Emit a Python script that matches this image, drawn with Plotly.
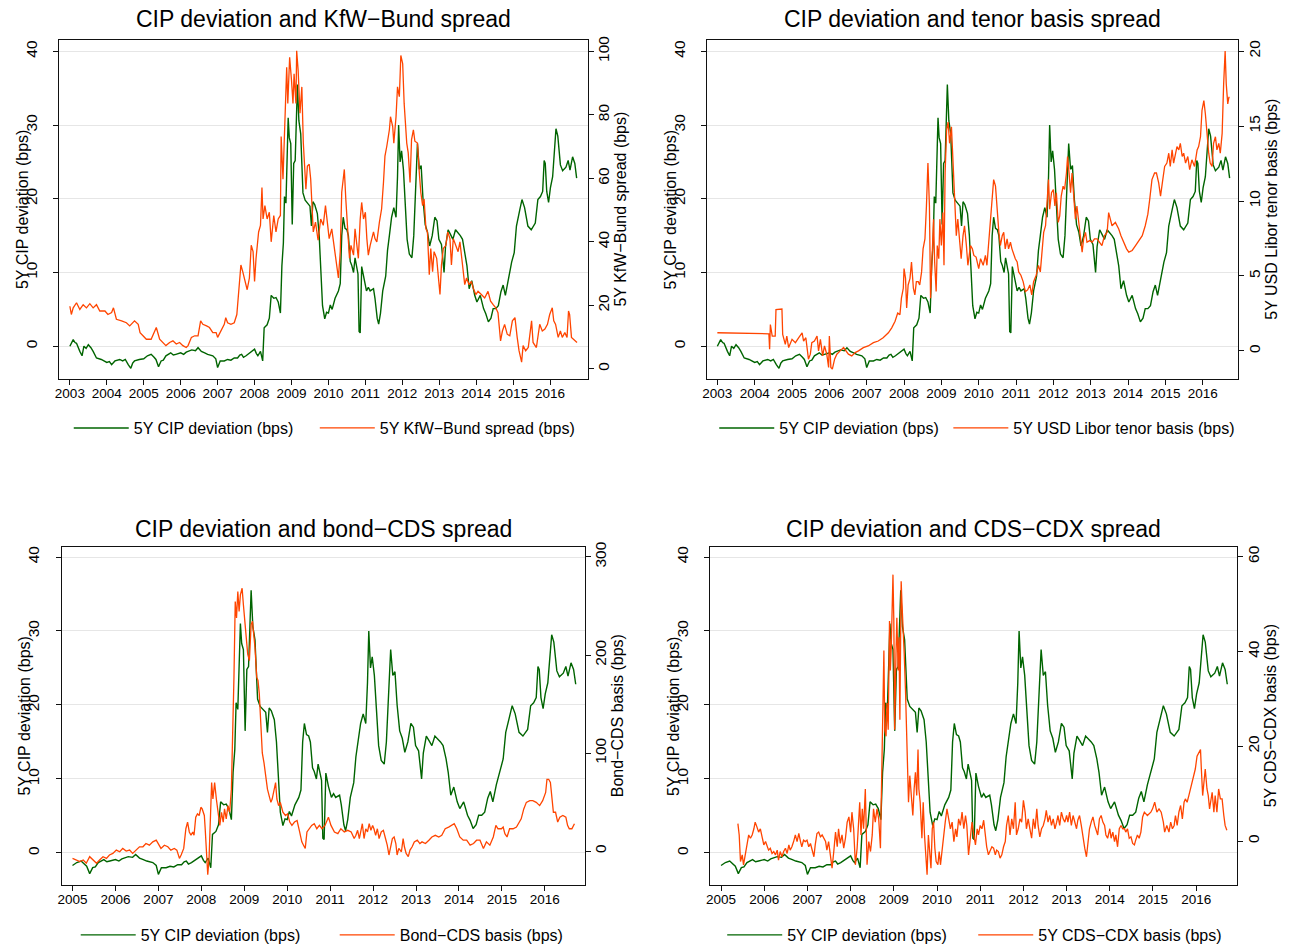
import plotly.graph_objects as go

# ---------------- data (decimal year, value) ----------------
CIP = [
(2003.00,0.0),(2003.05,0.6),(2003.09,0.9),(2003.14,0.5),(2003.18,0.4),(2003.27,-0.7),(2003.33,-1.3),(2003.38,0.0),
(2003.44,-0.3),(2003.50,0.2),(2003.57,-0.2),(2003.63,-0.7),(2003.72,-1.6),(2003.85,-1.8),(2003.93,-2.0),(2004.00,-2.2),
(2004.07,-2.1),(2004.13,-2.5),(2004.22,-2.0),(2004.35,-1.8),(2004.43,-2.0),(2004.50,-1.8),(2004.58,-2.5),(2004.65,-3.0),
(2004.70,-2.3),(2004.75,-2.0),(2004.88,-1.8),(2005.00,-1.7),(2005.10,-1.3),(2005.20,-1.1),(2005.28,-1.5),(2005.33,-1.8),
(2005.40,-2.8),(2005.47,-2.0),(2005.53,-1.9),(2005.60,-1.3),(2005.73,-0.9),(2005.80,-1.2),(2005.87,-1.1),(2006.00,-0.9),
(2006.08,-1.1),(2006.15,-0.8),(2006.30,-0.5),(2006.40,-0.6),(2006.47,-0.2),(2006.56,-0.7),(2006.65,-0.9),(2006.73,-1.1),
(2006.87,-1.3),(2006.95,-1.7),(2007.00,-2.9),(2007.07,-2.0),(2007.18,-2.0),(2007.27,-1.8),(2007.36,-1.9),(2007.45,-1.6),
(2007.54,-1.6),(2007.60,-1.2),(2007.65,-1.1),(2007.70,-1.5),(2007.77,-1.3),(2007.84,-1.0),(2007.89,-0.9),(2008.00,-0.4),
(2008.05,-1.0),(2008.09,-1.3),(2008.16,-0.7),(2008.22,-2.0),(2008.26,2.5),(2008.34,2.9),(2008.40,3.8),(2008.45,6.9),
(2008.52,6.5),(2008.58,6.6),(2008.64,6.0),(2008.70,4.5),(2008.74,10.9),(2008.78,14.0),(2008.81,20.3),(2008.85,19.4),
(2008.91,31.0),(2008.94,28.3),(2008.98,27.5),(2009.02,16.5),(2009.06,24.8),(2009.10,25.2),(2009.16,35.5),(2009.20,30.6),
(2009.25,28.8),(2009.31,20.8),(2009.37,19.8),(2009.43,19.4),(2009.50,19.0),(2009.54,16.3),(2009.58,19.6),(2009.63,19.2),
(2009.70,18.0),(2009.75,15.0),(2009.79,10.0),(2009.84,5.5),(2009.90,3.7),(2009.95,4.6),(2010.00,4.5),(2010.05,5.6),
(2010.10,5.0),(2010.18,6.5),(2010.27,7.5),(2010.32,8.5),(2010.36,15.0),(2010.40,17.5),(2010.45,16.0),(2010.50,15.8),
(2010.54,15.0),(2010.59,11.5),(2010.63,11.0),(2010.68,10.0),(2010.72,12.0),(2010.77,10.5),(2010.80,9.8),(2010.83,2.0),
(2010.86,1.8),(2010.90,10.8),(2010.96,9.0),(2011.03,7.5),(2011.08,8.0),(2011.13,7.5),(2011.22,7.8),(2011.26,6.5),
(2011.32,3.8),(2011.36,3.0),(2011.41,4.5),(2011.47,7.5),(2011.55,9.5),(2011.60,13.0),(2011.65,15.0),(2011.71,17.5),
(2011.77,18.8),(2011.83,17.5),(2011.87,23.0),(2011.90,30.0),(2011.94,25.0),(2011.98,26.5),(2012.03,24.0),(2012.08,18.5),
(2012.13,14.5),(2012.19,12.5),(2012.26,12.0),(2012.31,15.0),(2012.37,22.5),(2012.41,27.5),(2012.46,24.0),(2012.51,24.5),
(2012.56,20.0),(2012.62,16.5),(2012.68,15.5),(2012.74,13.6),(2012.81,15.0),(2012.88,17.5),(2012.94,17.0),(2012.99,14.5),
(2013.06,13.8),(2013.13,10.0),(2013.17,13.5),(2013.24,15.8),(2013.30,15.2),(2013.37,14.5),(2013.44,15.8),(2013.51,15.4),
(2013.57,15.0),(2013.63,14.5),(2013.70,12.7),(2013.75,10.9),(2013.81,7.8),(2013.88,8.9),(2013.96,6.9),(2014.02,6.0),
(2014.11,6.9),(2014.20,5.1),(2014.26,4.4),(2014.33,3.3),(2014.40,3.8),(2014.46,5.1),(2014.53,5.1),(2014.60,5.5),
(2014.67,7.4),(2014.73,8.3),(2014.79,6.9),(2014.87,9.2),(2014.96,11.4),(2015.03,12.7),(2015.09,16.3),(2015.18,18.5),
(2015.24,19.9),(2015.31,18.8),(2015.40,16.3),(2015.49,15.8),(2015.60,16.7),(2015.67,19.9),(2015.74,20.3),(2015.80,21.0),
(2015.84,25.2),(2015.87,24.8),(2015.91,21.0),(2015.96,19.5),(2016.01,21.5),(2016.07,23.0),(2016.12,27.0),(2016.16,29.5),
(2016.21,28.5),(2016.28,24.6),(2016.34,23.8),(2016.43,24.3),(2016.49,25.2),(2016.54,23.9),(2016.61,25.7),(2016.67,24.8),
(2016.72,22.8)]

KFW_BUND = [
(2003.00,19.7),(2003.04,17.1),(2003.09,19.2),(2003.18,20.8),(2003.27,18.7),(2003.36,20.2),(2003.45,19.2),(2003.54,20.5),
(2003.63,19.2),(2003.72,20.2),(2003.81,18.2),(2003.95,18.2),(2004.03,17.1),(2004.13,17.7),(2004.18,19.2),(2004.26,15.6),
(2004.40,15.1),(2004.53,14.5),(2004.62,13.5),(2004.75,15.1),(2004.85,14.0),(2004.90,11.4),(2004.98,10.4),(2005.07,9.3),
(2005.20,9.3),(2005.30,11.9),(2005.34,13.0),(2005.43,9.3),(2005.52,8.3),(2005.60,7.3),(2005.70,8.3),(2005.79,8.8),
(2005.88,7.8),(2005.97,8.3),(2006.06,7.3),(2006.15,6.7),(2006.20,7.3),(2006.29,9.9),(2006.38,10.4),(2006.47,10.4),
(2006.54,15.1),(2006.60,14.0),(2006.70,13.5),(2006.78,13.0),(2006.87,11.4),(2006.96,11.4),(2007.00,9.9),(2007.07,11.4),
(2007.13,13.0),(2007.18,14.0),(2007.22,16.1),(2007.27,14.5),(2007.36,14.0),(2007.45,14.5),(2007.52,17.1),(2007.56,23.4),
(2007.63,32.7),(2007.68,30.6),(2007.74,28.0),(2007.80,24.9),(2007.86,28.6),(2007.91,38.9),(2007.96,36.9),(2008.00,27.5),
(2008.04,34.8),(2008.11,43.1),(2008.16,45.2),(2008.20,57.1),(2008.23,47.2),(2008.28,51.4),(2008.34,47.2),(2008.40,49.3),
(2008.45,40.0),(2008.52,48.3),(2008.58,43.1),(2008.64,47.2),(2008.70,48.3),(2008.72,73.2),(2008.77,59.7),(2008.82,80.5),
(2008.87,95.0),(2008.90,83.6),(2008.95,98.1),(2009.00,90.9),(2009.04,83.6),(2009.07,92.9),(2009.12,83.6),(2009.14,100.2),
(2009.18,94.0),(2009.23,80.5),(2009.28,88.8),(2009.32,71.1),(2009.39,56.6),(2009.43,63.9),(2009.48,64.4),(2009.52,59.7),
(2009.59,43.1),(2009.65,46.2),(2009.72,40.5),(2009.79,47.2),(2009.86,45.2),(2009.92,51.4),(2010.02,41.0),(2010.09,44.1),
(2010.18,36.9),(2010.22,32.7),(2010.27,28.6),(2010.32,36.9),(2010.36,55.6),(2010.40,59.7),(2010.43,62.8),(2010.47,53.5),
(2010.52,44.1),(2010.57,34.8),(2010.61,38.9),(2010.68,35.8),(2010.72,44.1),(2010.77,38.9),(2010.81,34.8),(2010.86,47.2),
(2010.90,52.4),(2010.95,47.2),(2011.00,49.3),(2011.04,41.0),(2011.08,35.8),(2011.13,38.9),(2011.22,43.1),(2011.26,41.0),
(2011.31,40.0),(2011.38,46.2),(2011.44,50.4),(2011.49,58.7),(2011.53,67.0),(2011.58,70.1),(2011.65,75.3),(2011.68,79.4),
(2011.74,76.3),(2011.77,71.1),(2011.83,79.4),(2011.87,88.8),(2011.92,85.7),(2011.96,98.7),(2012.01,96.1),(2012.05,83.6),
(2012.12,71.1),(2012.16,68.0),(2012.21,58.7),(2012.25,72.2),(2012.30,75.3),(2012.34,71.7),(2012.41,71.1),(2012.46,61.8),
(2012.50,55.6),(2012.55,51.4),(2012.59,53.5),(2012.64,44.1),(2012.68,43.1),(2012.73,29.6),(2012.77,37.9),(2012.82,30.6),
(2012.86,36.9),(2012.93,34.8),(2012.97,30.6),(2013.02,23.4),(2013.06,32.7),(2013.11,37.9),(2013.18,38.9),(2013.23,43.1),
(2013.29,41.0),(2013.33,32.7),(2013.38,41.0),(2013.45,38.9),(2013.51,36.9),(2013.56,40.0),(2013.63,33.7),(2013.69,26.5),
(2013.74,28.6),(2013.81,26.5),(2013.87,27.5),(2013.92,25.4),(2013.99,23.4),(2014.05,24.4),(2014.14,23.4),(2014.23,22.3),
(2014.32,24.4),(2014.39,21.3),(2014.46,20.2),(2014.53,19.2),(2014.59,17.7),(2014.66,8.8),(2014.71,11.9),(2014.77,14.0),
(2014.84,10.9),(2014.91,10.4),(2014.98,15.1),(2015.05,16.1),(2015.11,9.9),(2015.16,5.7),(2015.23,2.1),(2015.27,7.3),
(2015.34,5.7),(2015.41,6.7),(2015.50,15.1),(2015.54,8.3),(2015.63,6.7),(2015.72,14.0),(2015.79,11.9),(2015.86,12.5),
(2015.93,14.0),(2015.99,17.1),(2016.06,19.2),(2016.10,15.1),(2016.15,14.0),(2016.22,9.9),(2016.28,11.9),(2016.33,9.9),
(2016.40,11.4),(2016.46,9.9),(2016.50,18.2),(2016.53,17.1),(2016.58,9.9),(2016.64,9.3),(2016.69,8.8),(2016.73,8.3)]

TENOR_BASIS = [
(2003.00,1.21),(2003.50,1.20),(2004.00,1.17),(2004.38,1.14),(2004.40,0.11),(2004.42,1.76),(2004.47,0.99),(2004.55,0.99),
(2004.57,2.75),(2004.73,2.79),(2004.75,1.10),(2004.82,0.44),(2004.86,0.99),(2004.91,0.22),(2005.00,0.77),(2005.09,0.55),
(2005.18,0.88),(2005.27,1.21),(2005.31,0.66),(2005.37,0.88),(2005.44,-0.55),(2005.49,-0.22),(2005.53,0.55),(2005.60,0.66),
(2005.67,0.99),(2005.71,0.00),(2005.76,0.77),(2005.82,-0.33),(2005.87,0.33),(2005.93,-0.22),(2005.98,-1.10),(2006.00,0.99),
(2006.04,-1.10),(2006.08,-1.21),(2006.14,-0.55),(2006.20,-0.22),(2006.29,0.00),(2006.38,0.22),(2006.51,-0.22),(2006.60,-0.33),
(2006.69,-0.11),(2006.78,0.00),(2006.91,0.22),(2007.04,0.33),(2007.18,0.55),(2007.31,0.66),(2007.44,0.88),(2007.58,1.21),
(2007.67,1.54),(2007.76,1.98),(2007.83,2.53),(2007.89,2.42),(2007.93,3.52),(2007.98,4.18),(2008.00,5.49),(2008.04,4.84),
(2008.07,2.86),(2008.11,4.40),(2008.16,4.84),(2008.20,5.93),(2008.25,4.18),(2008.29,3.74),(2008.33,4.62),(2008.38,4.62),
(2008.42,4.40),(2008.47,5.27),(2008.51,6.81),(2008.56,7.47),(2008.60,9.67),(2008.64,12.53),(2008.68,9.67),(2008.71,3.52),
(2008.75,6.15),(2008.79,8.79),(2008.82,5.93),(2008.86,3.96),(2008.89,7.03),(2008.93,6.15),(2008.96,8.79),(2009.00,7.03),
(2009.04,9.23),(2009.07,5.71),(2009.10,11.87),(2009.14,14.73),(2009.18,15.27),(2009.22,13.85),(2009.27,14.95),(2009.31,12.97),
(2009.36,10.0),(2009.40,7.69),(2009.44,8.79),(2009.49,7.47),(2009.53,6.15),(2009.58,7.69),(2009.62,8.35),(2009.67,7.03),
(2009.71,5.71),(2009.78,7.03),(2009.83,6.81),(2009.87,6.37),(2009.93,6.26),(2010.00,5.49),(2010.05,6.15),(2010.12,5.71),
(2010.18,6.37),(2010.22,5.71),(2010.27,7.25),(2010.31,8.79),(2010.36,10.55),(2010.40,11.43),(2010.45,10.99),(2010.49,9.23),
(2010.54,7.91),(2010.58,7.03),(2010.63,7.69),(2010.67,7.91),(2010.71,6.81),(2010.76,7.47),(2010.80,6.81),(2010.85,7.25),
(2010.89,6.81),(2010.98,6.15),(2011.03,5.93),(2011.07,5.27),(2011.13,5.05),(2011.19,4.62),(2011.25,3.96),(2011.31,4.07),
(2011.37,4.40),(2011.42,3.74),(2011.47,4.62),(2011.54,5.05),(2011.60,5.71),(2011.65,5.27),(2011.70,7.03),(2011.74,7.91),
(2011.79,8.35),(2011.83,10.11),(2011.87,11.43),(2011.90,9.45),(2011.95,10.55),(2012.00,10.77),(2012.04,9.67),(2012.08,10.55),
(2012.13,8.57),(2012.17,9.01),(2012.21,10.33),(2012.26,10.99),(2012.30,10.77),(2012.35,11.87),(2012.38,12.97),(2012.42,11.87),
(2012.46,10.55),(2012.50,11.87),(2012.54,10.11),(2012.59,8.79),(2012.63,9.67),(2012.68,8.57),(2012.72,7.25),(2012.77,6.59),
(2012.81,7.47),(2012.86,7.91),(2012.90,7.25),(2012.97,7.36),(2013.04,7.25),(2013.10,7.47),(2013.17,7.47),(2013.24,7.25),
(2013.30,7.03),(2013.37,7.69),(2013.44,7.91),(2013.48,9.23),(2013.53,8.79),(2013.57,8.35),(2013.66,8.57),(2013.75,8.13),
(2013.81,7.69),(2013.88,7.25),(2013.96,6.81),(2014.02,6.59),(2014.11,6.70),(2014.20,7.03),(2014.29,7.36),(2014.38,7.69),
(2014.46,8.35),(2014.53,9.12),(2014.58,10.11),(2014.64,11.43),(2014.71,11.87),(2014.76,11.87),(2014.82,11.21),(2014.87,10.33),
(2014.93,11.43),(2014.98,12.31),(2015.04,12.53),(2015.09,13.19),(2015.13,12.31),(2015.18,13.41),(2015.22,12.53),(2015.27,13.19),
(2015.31,13.63),(2015.36,13.41),(2015.40,13.85),(2015.45,12.97),(2015.49,13.19),(2015.54,12.53),(2015.60,12.97),(2015.65,12.09),
(2015.71,12.75),(2015.78,12.31),(2015.85,13.41),(2015.89,13.63),(2015.94,14.29),(2015.98,16.04),(2016.03,16.70),(2016.07,15.82),
(2016.12,14.29),(2016.16,13.19),(2016.20,12.53),(2016.25,12.31),(2016.29,13.85),(2016.34,14.29),(2016.38,13.41),(2016.43,13.85),
(2016.47,13.19),(2016.52,14.51),(2016.56,17.80),(2016.60,20.00),(2016.63,17.80),(2016.67,16.48),(2016.70,16.92),(2016.72,16.92)]

BOND_CDS = [
(2005.00,-7.4),(2005.09,-9.1),(2005.17,-10.7),(2005.25,-9.1),(2005.32,-12.4),(2005.40,-5.7),(2005.48,-9.1),(2005.56,-12.4),
(2005.63,-9.1),(2005.71,-5.7),(2005.79,-7.4),(2005.86,-4.0),(2005.94,-2.4),(2006.02,1.0),(2006.10,-0.7),(2006.17,2.7),
(2006.25,0.0),(2006.33,1.0),(2006.40,-2.4),(2006.48,1.0),(2006.56,4.4),(2006.64,4.4),(2006.71,7.7),(2006.79,6.0),
(2006.87,9.4),(2006.95,11.1),(2007.00,7.7),(2007.06,2.7),(2007.14,6.0),(2007.22,4.4),(2007.29,1.0),(2007.37,2.7),
(2007.43,1.0),(2007.49,-7.4),(2007.53,-4.0),(2007.59,2.7),(2007.64,22.8),(2007.68,29.6),(2007.72,19.5),(2007.76,16.1),
(2007.80,19.5),(2007.83,16.1),(2007.87,34.6),(2007.91,38.0),(2007.95,36.3),(2007.99,44.7),(2008.02,43.0),(2008.07,36.3),
(2008.09,22.8),(2008.12,-4.0),(2008.15,-24.2),(2008.18,-7.4),(2008.21,43.0),(2008.24,69.9),(2008.27,53.1),(2008.31,69.9),
(2008.35,53.1),(2008.39,39.6),(2008.43,26.2),(2008.47,39.6),(2008.51,29.6),(2008.54,43.0),(2008.58,32.9),(2008.62,46.4),
(2008.66,39.6),(2008.70,63.2),(2008.73,110.2),(2008.76,177.4),(2008.79,254.6),(2008.82,237.8),(2008.85,264.7),(2008.88,244.5),
(2008.91,261.3),(2008.95,268.1),(2008.98,251.3),(2009.01,234.5),(2009.05,217.7),(2009.08,200.9),(2009.12,194.2),(2009.16,231.1),
(2009.19,234.5),(2009.22,221.0),(2009.25,207.6),(2009.29,177.4),(2009.32,174.0),(2009.35,160.6),(2009.38,130.3),(2009.42,100.1),
(2009.46,90.0),(2009.50,76.6),(2009.54,63.2),(2009.58,56.4),(2009.62,49.7),(2009.65,53.1),(2009.69,63.2),(2009.73,69.9),
(2009.76,53.1),(2009.80,46.4),(2009.84,49.7),(2009.90,39.6),(2009.96,36.3),(2010.01,38.0),(2010.06,29.6),(2010.11,26.2),
(2010.17,29.6),(2010.23,31.2),(2010.29,19.5),(2010.34,9.4),(2010.38,6.0),(2010.42,2.7),(2010.46,19.5),(2010.52,22.8),
(2010.57,26.2),(2010.63,27.9),(2010.69,22.8),(2010.75,26.2),(2010.81,22.8),(2010.88,26.2),(2010.96,34.6),(2011.02,26.2),
(2011.10,19.5),(2011.18,17.8),(2011.25,22.8),(2011.33,19.5),(2011.41,21.2),(2011.49,19.5),(2011.56,12.8),(2011.60,16.1),
(2011.64,21.2),(2011.68,12.8),(2011.72,22.8),(2011.75,27.9),(2011.79,12.8),(2011.83,22.8),(2011.87,19.5),(2011.91,27.9),
(2011.95,21.2),(2011.99,26.2),(2012.02,22.8),(2012.06,16.1),(2012.10,22.8),(2012.14,12.8),(2012.19,19.5),(2012.24,21.2),
(2012.29,12.8),(2012.33,6.0),(2012.37,-4.0),(2012.41,6.0),(2012.45,12.8),(2012.49,14.4),(2012.53,7.7),(2012.56,-4.0),
(2012.60,2.7),(2012.66,-0.7),(2012.70,12.8),(2012.73,4.4),(2012.77,-2.4),(2012.82,-5.7),(2012.86,1.0),(2012.91,4.4),
(2012.96,9.4),(2013.03,11.1),(2013.09,7.7),(2013.14,9.4),(2013.22,7.7),(2013.30,11.1),(2013.37,14.4),(2013.45,16.1),
(2013.53,14.4),(2013.60,16.1),(2013.68,22.8),(2013.76,24.5),(2013.84,26.2),(2013.89,27.9),(2013.95,22.8),(2014.02,14.4),
(2014.10,11.1),(2014.18,11.1),(2014.26,6.0),(2014.34,7.7),(2014.41,11.1),(2014.49,11.1),(2014.57,2.7),(2014.64,9.4),
(2014.72,6.0),(2014.80,14.4),(2014.86,26.2),(2014.91,22.8),(2014.99,22.8),(2015.03,24.5),(2015.07,17.8),(2015.12,14.4),
(2015.18,22.8),(2015.26,22.8),(2015.34,24.5),(2015.40,29.6),(2015.45,32.9),(2015.51,43.0),(2015.57,49.7),(2015.65,51.4),
(2015.72,51.4),(2015.80,49.7),(2015.88,46.4),(2015.95,51.4),(2016.02,59.8),(2016.05,73.2),(2016.09,73.2),(2016.13,69.9),
(2016.17,49.7),(2016.20,39.6),(2016.25,39.6),(2016.30,29.6),(2016.35,34.6),(2016.42,36.3),(2016.49,34.6),(2016.53,26.2),
(2016.57,22.8),(2016.63,22.8),(2016.69,27.9)]

CDS_CDX = [
(2005.39,3.7),(2005.42,1.3),(2005.45,-4.3),(2005.49,-2.9),(2005.52,-5.0),(2005.56,-2.9),(2005.60,-1.5),(2005.64,1.3),
(2005.68,0.6),(2005.72,1.3),(2005.76,2.6),(2005.79,4.0),(2005.83,3.0),(2005.87,1.9),(2005.91,2.6),(2005.95,0.9),
(2005.99,-0.8),(2006.03,-0.1),(2006.06,-0.8),(2006.10,-1.9),(2006.14,-1.5),(2006.18,-2.6),(2006.22,-2.2),(2006.26,-2.9),
(2006.30,-1.9),(2006.33,-4.0),(2006.37,-2.2),(2006.41,-3.3),(2006.45,-2.2),(2006.49,-1.5),(2006.53,-2.6),(2006.57,-0.8),
(2006.60,-1.9),(2006.64,-1.2),(2006.68,-0.1),(2006.72,1.3),(2006.76,-0.1),(2006.80,1.6),(2006.84,-0.1),(2006.87,-1.2),
(2006.91,0.2),(2006.95,-0.1),(2006.99,0.2),(2007.03,-1.2),(2007.07,-0.5),(2007.11,-1.9),(2007.15,-3.3),(2007.18,-0.8),
(2007.22,1.6),(2007.26,1.9),(2007.30,0.9),(2007.34,1.3),(2007.38,0.6),(2007.42,-0.1),(2007.45,-1.9),(2007.49,-0.1),
(2007.53,-2.9),(2007.57,-5.7),(2007.61,-2.2),(2007.65,1.9),(2007.69,-1.2),(2007.72,2.6),(2007.76,-0.5),(2007.80,1.3),
(2007.84,-1.5),(2007.88,0.6),(2007.92,4.0),(2007.96,5.1),(2008.00,1.9),(2008.03,6.1),(2008.07,2.6),(2008.11,-5.0),
(2008.15,-1.5),(2008.19,6.1),(2008.21,8.2),(2008.24,1.3),(2008.27,6.8),(2008.30,2.6),(2008.34,11.0),(2008.38,-5.0),
(2008.42,-0.1),(2008.46,-2.2),(2008.50,1.3),(2008.53,6.8),(2008.57,4.0),(2008.61,6.8),(2008.65,4.7),(2008.69,-1.5),
(2008.71,9.6),(2008.74,22.1),(2008.77,40.2),(2008.79,23.5),(2008.82,22.1),(2008.84,29.1),(2008.87,23.5),(2008.90,46.4),
(2008.92,36.0),(2008.94,40.9),(2008.98,56.2),(2009.00,46.4),(2009.02,23.5),(2009.05,39.5),(2009.07,47.1),(2009.10,36.0),
(2009.12,43.0),(2009.14,25.6),(2009.17,54.8),(2009.19,49.9),(2009.21,46.4),(2009.24,39.5),(2009.27,31.8),(2009.29,24.9),
(2009.31,13.8),(2009.34,8.2),(2009.37,13.8),(2009.41,9.6),(2009.44,5.4),(2009.47,11.0),(2009.50,14.5),(2009.53,9.6),
(2009.56,19.3),(2009.58,11.0),(2009.61,8.2),(2009.65,0.6),(2009.68,8.2),(2009.71,1.3),(2009.74,-4.0),(2009.77,-7.1),
(2009.80,1.3),(2009.83,-2.9),(2009.86,-5.7),(2009.89,2.6),(2009.92,4.0),(2009.95,-1.5),(2009.98,-4.3),(2010.02,-5.0),
(2010.05,-2.2),(2010.08,-5.0),(2010.12,-1.5),(2010.15,1.3),(2010.19,4.0),(2010.23,6.8),(2010.27,4.7),(2010.31,2.6),
(2010.35,4.0),(2010.39,-0.1),(2010.43,2.6),(2010.46,0.9),(2010.50,4.7),(2010.54,3.3),(2010.58,6.1),(2010.62,2.6),
(2010.66,5.4),(2010.69,3.3),(2010.73,-2.9),(2010.77,1.3),(2010.81,4.0),(2010.85,1.3),(2010.89,-0.8),(2010.93,2.6),
(2010.96,1.3),(2011.00,3.3),(2011.04,2.6),(2011.08,4.4),(2011.12,0.6),(2011.15,-1.2),(2011.19,-2.9),(2011.23,-2.2),
(2011.27,-1.2),(2011.31,-1.5),(2011.35,-2.9),(2011.38,-1.9),(2011.42,-2.2),(2011.46,-3.6),(2011.50,-2.9),(2011.54,-1.2),
(2011.58,-0.1),(2011.61,3.3),(2011.65,5.4),(2011.69,1.3),(2011.73,4.7),(2011.77,2.6),(2011.81,8.2),(2011.84,1.3),
(2011.88,2.6),(2011.92,4.7),(2011.96,4.0),(2012.00,8.6),(2012.04,6.1),(2012.07,2.6),(2012.11,4.7),(2012.15,2.6),
(2012.19,0.6),(2012.23,4.7),(2012.27,2.6),(2012.31,6.8),(2012.34,3.3),(2012.38,0.9),(2012.42,2.6),(2012.46,3.3),
(2012.50,4.7),(2012.53,6.5),(2012.57,4.0),(2012.61,5.4),(2012.65,3.3),(2012.69,4.7),(2012.73,2.6),(2012.77,4.0),
(2012.80,5.4),(2012.84,3.3),(2012.88,6.1),(2012.92,4.7),(2012.96,4.0),(2013.00,5.4),(2013.03,4.0),(2013.07,6.1),
(2013.11,3.3),(2013.15,5.4),(2013.19,4.0),(2013.23,2.6),(2013.26,4.4),(2013.30,5.4),(2013.34,3.3),(2013.38,0.6),
(2013.42,-1.5),(2013.46,-3.3),(2013.49,-0.1),(2013.53,2.6),(2013.57,4.0),(2013.61,5.1),(2013.65,3.3),(2013.69,1.9),
(2013.72,1.3),(2013.76,4.7),(2013.80,5.4),(2013.84,4.0),(2013.88,3.3),(2013.91,1.3),(2013.95,0.6),(2014.00,2.6),
(2014.03,0.6),(2014.07,1.9),(2014.11,-0.1),(2014.14,1.3),(2014.18,-1.2),(2014.22,2.6),(2014.26,3.3),(2014.30,2.6),
(2014.34,2.6),(2014.37,1.9),(2014.41,2.6),(2014.45,0.6),(2014.49,0.9),(2014.53,-0.5),(2014.57,-0.8),(2014.60,0.2),
(2014.64,1.3),(2014.68,0.6),(2014.72,1.9),(2014.76,5.1),(2014.80,6.1),(2014.87,5.4),(2014.95,6.1),(2014.99,6.8),
(2015.04,8.2),(2015.09,6.1),(2015.14,6.8),(2015.19,6.1),(2015.24,4.0),(2015.27,1.9),(2015.32,3.3),(2015.37,1.9),
(2015.41,4.0),(2015.45,2.6),(2015.49,3.3),(2015.52,5.4),(2015.56,3.3),(2015.60,6.1),(2015.64,7.5),(2015.68,4.7),
(2015.72,8.2),(2015.75,8.9),(2015.79,8.2),(2015.83,9.6),(2015.87,11.0),(2015.91,12.4),(2015.95,14.1),(2015.98,15.2),
(2016.02,17.9),(2016.06,18.6),(2016.10,19.3),(2016.12,15.2),(2016.15,9.6),(2016.18,12.4),(2016.21,15.2),(2016.25,11.0),
(2016.28,9.6),(2016.31,6.8),(2016.34,8.2),(2016.37,10.3),(2016.41,6.1),(2016.44,9.6),(2016.48,6.1),(2016.52,11.0),
(2016.56,8.9),(2016.60,8.9),(2016.64,5.4),(2016.67,3.3),(2016.71,2.3)]

CIP_NAME = "5Y CIP deviation (bps)"
TITLES = ["CIP deviation and KfW\u2212Bund spread", "CIP deviation and tenor basis spread",
          "CIP deviation and bond\u2212CDS spread", "CIP deviation and CDS\u2212CDX spread"]
RIGHT_NAMES = ["5Y KfW\u2212Bund spread (bps)", "5Y USD Libor tenor basis (bps)",
               "Bond\u2212CDS basis (bps)", "5Y CDS\u2212CDX basis (bps)"]
RIGHT_SERIES = [KFW_BUND, TENOR_BASIS, BOND_CDS, CDS_CDX]
RIGHT_TICKS = [[0, 20, 40, 60, 80, 100], [0, 5, 10, 15, 20], [0, 100, 200, 300], [0, 20, 40, 60]]
LEFT_TICKS = [0, 10, 20, 30, 40]
CIP_START = [2003, 2003, 2005, 2005]
YEAR_TICKS = [list(range(2003, 2017)), list(range(2003, 2017)), list(range(2005, 2017)), list(range(2005, 2017))]

# ---------------- layout geometry ----------------
W, H = 1291, 952
PLOT_PX = [(54, 585, 35, 378), (705, 1238, 35, 378), (57, 582, 548, 890), (708, 1237, 548, 890)]
X_RANGES = [[2002.70, 2017.02], [2002.73, 2016.95], [2004.75, 2016.93], [2004.75, 2016.95]]
LEFT_RANGES = [[-4.4, 41.6], [-4.4, 41.6], [-4.3, 41.4], [-4.3, 41.4]]
RIGHT_RANGES = [[-3.1, 103.7], [-1.85, 20.77], [-34.3, 310.5], [-9.2, 62.1]]
# legend: (left px of green-entry text, left px of orange-entry text, y center px)
LEGEND_POS = [(133, 380, 428), (781, 1016, 428), (140, 400, 941), (789, 1041, 941)]
LEGEND_ITEMWIDTH = 55
TITLE_Y = [14, 14, 530, 530]
LEFT_TITLE_OFFSET = 37

GREEN = "#006400"
ORANGE = "#FF4500"
FONT = "Liberation Sans, Arial, Helvetica, sans-serif"
AXIS_COLOR = "#111111"

fig = go.Figure()
layout = dict(width=W, height=H, margin=dict(l=0, r=0, t=0, b=0),
              paper_bgcolor="white", plot_bgcolor="white",
              font=dict(family=FONT, color="#000000"), annotations=[], showlegend=True)


def legend_box(text_left_px, y_px):
    return dict(orientation="h", x=(text_left_px - LEGEND_ITEMWIDTH - 14) / W, y=1 - y_px / H,
                xanchor="left", yanchor="middle", font=dict(size=16, family=FONT, color="#000"),
                bgcolor="rgba(0,0,0,0)", itemwidth=LEGEND_ITEMWIDTH)


for k in range(4):
    n = k + 1
    xid = "x" if n == 1 else f"x{n}"
    yid = "y" if n == 1 else f"y{n}"
    y2id = f"y{n + 4}"
    leg_a = "legend" if k == 0 else f"legend{2 * k + 1}"
    leg_b = f"legend{2 * k + 2}"
    l, r, t, b = PLOT_PX[k]
    xdom = [l / W, r / W]
    ydom = [1 - b / H, 1 - t / H]

    cx = [d for d, v in CIP if d >= CIP_START[k]]
    cy = [v for d, v in CIP if d >= CIP_START[k]]
    fig.add_trace(go.Scatter(x=cx, y=cy, mode="lines", name=CIP_NAME,
                             line=dict(color=GREEN, width=1.4),
                             xaxis=xid, yaxis=yid, legend=leg_a))
    rs = RIGHT_SERIES[k]
    fig.add_trace(go.Scatter(x=[d for d, v in rs], y=[v for d, v in rs], mode="lines",
                             name=RIGHT_NAMES[k], line=dict(color=ORANGE, width=1.3),
                             xaxis=xid, yaxis=y2id, legend=leg_b))

    xname = "xaxis" if n == 1 else f"xaxis{n}"
    yname = "yaxis" if n == 1 else f"yaxis{n}"
    y2name = f"yaxis{n + 4}"
    layout[xname] = dict(domain=xdom, anchor=yid, range=X_RANGES[k], tickmode="array",
                         tickvals=YEAR_TICKS[k], ticktext=[str(v) for v in YEAR_TICKS[k]],
                         ticks="outside", ticklen=5, tickcolor=AXIS_COLOR, showgrid=False,
                         zeroline=False, showline=True, mirror=True, linecolor=AXIS_COLOR,
                         linewidth=1.2, ticklabelstandoff=-3,
                         tickfont=dict(size=13.5, family=FONT, color="#000"))
    layout[yname] = dict(domain=ydom, anchor=xid, range=LEFT_RANGES[k], tickmode="array",
                         tickvals=LEFT_TICKS, ticks="outside", ticklen=5, tickcolor=AXIS_COLOR,
                         tickangle=-90, showgrid=True, gridcolor="#e6e6e6", gridwidth=1,
                         zeroline=False, showline=True, linecolor=AXIS_COLOR, linewidth=1.2,
                         ticklabelstandoff=10,
                         tickfont=dict(size=15.5, family=FONT, color="#000"))
    layout[y2name] = dict(anchor=xid, overlaying=yid, side="right", range=RIGHT_RANGES[k],
                          tickmode="array", tickvals=RIGHT_TICKS[k], ticks="outside", ticklen=5,
                          tickcolor=AXIS_COLOR, tickangle=-90, showgrid=False, zeroline=False,
                          showline=True, linecolor=AXIS_COLOR, linewidth=1.2,
                          ticklabelstandoff=-3,
                          tickfont=dict(size=15.5, family=FONT, color="#000"),
                          title=dict(text=RIGHT_NAMES[k], font=dict(size=16, family=FONT, color="#000"),
                                     standoff=2))
    # left axis title (placed to overlap the tick-label band as in the original)
    layout["annotations"].append(dict(text=CIP_NAME, textangle=-90,
                                      x=(l - LEFT_TITLE_OFFSET) / W, y=(ydom[0] + ydom[1]) / 2,
                                      xref="paper", yref="paper", xanchor="center", yanchor="middle",
                                      showarrow=False, font=dict(size=16, family=FONT, color="#000")))
    ta, tb, ly = LEGEND_POS[k]
    layout[leg_a] = legend_box(ta, ly)
    layout[leg_b] = legend_box(tb, ly)
    layout["annotations"].append(dict(text=TITLES[k], x=(l + r) / 2 / W, y=1 - TITLE_Y[k] / H,
                                      xref="paper", yref="paper", xanchor="center", yanchor="middle",
                                      showarrow=False, font=dict(size=23, family=FONT, color="#000")))

fig.update_layout(**layout)
fig.write_html("out.html", config={"displayModeBar": False},
               post_script="document.body.style.margin='0';document.body.style.padding='0';"
                           "document.body.style.overflow='hidden';")
